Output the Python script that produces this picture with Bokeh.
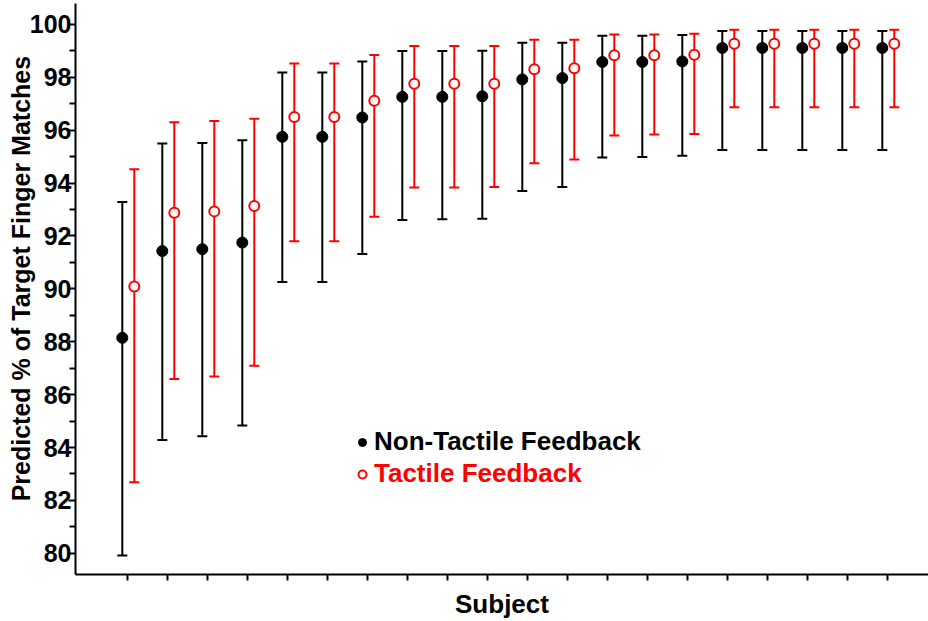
from bokeh.plotting import figure
from bokeh.models import (ColumnDataSource, Whisker, TeeHead, FixedTicker, Legend,
                          LegendItem, Range1d)
from bokeh.transform import dodge
from bokeh.embed import file_html
from bokeh.resources import INLINE

# ---------------- data ----------------
subjects = list(range(1, 21))

nontactile_mean = [88.15, 91.43, 91.50, 91.75, 95.75, 95.75, 96.48, 97.26, 97.26, 97.28,
                   97.92, 97.97, 98.58, 98.58, 98.60, 99.11, 99.11, 99.11, 99.11, 99.11]
nontactile_upper = [93.28, 95.50, 95.52, 95.62, 98.18, 98.18, 98.60, 98.99, 98.99, 99.00,
                    99.31, 99.31, 99.57, 99.57, 99.60, 99.75, 99.75, 99.75, 99.75, 99.75]
nontactile_lower = [79.92, 84.29, 84.43, 84.83, 90.26, 90.26, 91.32, 92.60, 92.63, 92.65,
                    93.70, 93.85, 94.97, 94.99, 95.03, 95.25, 95.25, 95.25, 95.25, 95.25]

tactile_mean = [90.09, 92.88, 92.93, 93.13, 96.50, 96.50, 97.11, 97.76, 97.76, 97.76,
                98.30, 98.34, 98.83, 98.83, 98.85, 99.27, 99.27, 99.27, 99.27, 99.27]
tactile_upper = [94.52, 96.30, 96.35, 96.43, 98.52, 98.52, 98.84, 99.18, 99.18, 99.18,
                 99.42, 99.42, 99.62, 99.62, 99.65, 99.80, 99.80, 99.80, 99.80, 99.80]
tactile_lower = [82.69, 86.59, 86.69, 87.09, 91.80, 91.80, 92.73, 93.83, 93.83, 93.85,
                 94.75, 94.89, 95.80, 95.84, 95.86, 96.87, 96.87, 96.87, 96.87, 96.87]

y_ticks = [80, 82, 84, 86, 88, 90, 92, 94, 96, 98, 100]
y_minor_ticks = [81, 83, 85, 87, 89, 91, 93, 95, 97, 99]

series_names = ["Non-Tactile Feedback", "Tactile Feedback"]
x_title = "Subject"
y_title = "Predicted % of Target Finger Matches"

# ---------------- styling ----------------
FONT = "Liberation Sans"
BLACK_DX = -0.13
RED_DX = 0.17

src = ColumnDataSource(dict(
    subject=subjects,
    nt_mean=nontactile_mean, nt_hi=nontactile_upper, nt_lo=nontactile_lower,
    t_mean=tactile_mean, t_hi=tactile_upper, t_lo=tactile_lower,
))

p = figure(width=928, height=621, output_backend="svg", toolbar_location=None,
           x_range=Range1d(-0.3, 21.025), y_range=Range1d(79.2, 100.79),
           min_border_left=75, min_border_right=0, min_border_top=3, min_border_bottom=46)
p.outline_line_color = None
p.xgrid.grid_line_color = None
p.ygrid.grid_line_color = None
p.background_fill_color = "white"
p.border_fill_color = "white"

# error bars
for dx, hi, lo, col in [(BLACK_DX, "nt_hi", "nt_lo", "black"), (RED_DX, "t_hi", "t_lo", "red")]:
    w = Whisker(source=src, base=dodge("subject", dx), upper=hi, lower=lo,
                dimension="height", line_color=col, line_width=2,
                upper_head=TeeHead(size=10, line_color=col, line_width=2),
                lower_head=TeeHead(size=10, line_color=col, line_width=2))
    p.add_layout(w)

r_nt = p.scatter(x=dodge("subject", BLACK_DX), y="nt_mean", source=src, size=11,
                 fill_color="black", line_color="black")
r_t = p.scatter(x=dodge("subject", RED_DX), y="t_mean", source=src, size=10,
                fill_color="white", line_color="red", line_width=2)

# axes
xa = p.xaxis[0]
xa.ticker = FixedTicker(ticks=subjects)
xa.major_label_text_font_size = "0px"
xa.major_label_text_color = None
xa.major_label_standoff = 0
xa.major_tick_in = 0
xa.major_tick_out = 6
xa.major_tick_line_width = 2
xa.minor_tick_line_color = None
xa.axis_line_width = 2
xa.axis_label = x_title
xa.axis_label_text_font = FONT
xa.axis_label_text_font_style = "bold"
xa.axis_label_text_font_size = "26px"
xa.axis_label_text_color = "black"
xa.axis_label_standoff = 8

ya = p.yaxis[0]
ya.ticker = FixedTicker(ticks=y_ticks, minor_ticks=y_minor_ticks)
ya.major_tick_in = 0
ya.major_tick_out = 7
ya.minor_tick_in = 0
ya.minor_tick_out = 6
ya.major_tick_line_width = 2
ya.minor_tick_line_width = 2
ya.axis_line_width = 2
ya.major_label_standoff = -3
ya.major_label_text_font = FONT
ya.major_label_text_font_style = "bold"
ya.major_label_text_font_size = "25px"
ya.major_label_text_color = "black"
ya.axis_label = "\u00a0" * 3 + y_title
ya.axis_label_text_font = FONT
ya.axis_label_text_font_style = "bold"
ya.axis_label_text_font_size = "25px"
ya.axis_label_text_color = "black"
ya.axis_label_standoff = -8

# legends (one per series so each label keeps its series colour)
for r, name, col, yloc in [(r_nt, series_names[0], "black", 117), (r_t, series_names[1], "red", 85)]:
    leg = Legend(items=[LegendItem(label=name, renderers=[r])], location=(277, yloc),
                 orientation="vertical", padding=0, margin=0, spacing=0,
                 border_line_color=None, background_fill_alpha=0,
                 glyph_width=20, glyph_height=20, label_standoff=2,
                 label_text_font=FONT, label_text_font_style="bold",
                 label_text_font_size="26px", label_text_color=col)
    p.add_layout(leg)

open("out.html", "w").write(file_html(p, INLINE))
